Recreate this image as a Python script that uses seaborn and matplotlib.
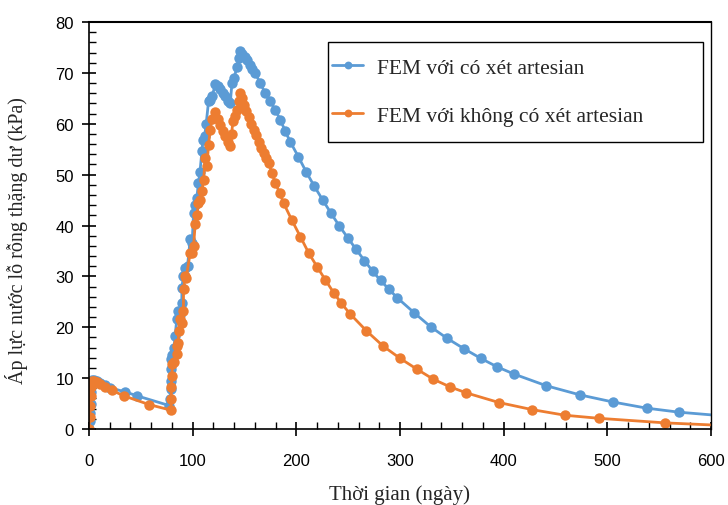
import matplotlib
matplotlib.use("Agg")
import matplotlib.pyplot as plt
from matplotlib.ticker import MultipleLocator
from matplotlib.patches import Rectangle
import seaborn as sns
import pandas as pd

# ---- data ----
days_with = [0, 0.5, 1, 1.5, 2, 3, 5, 8, 11, 15.5, 20.3, 34.8, 46.7, 77.5,
             78.5, 78.8, 79, 79.2, 79.5, 80.5, 82, 83, 84.7, 86.3, 87.5, 89.5, 89.6, 91,
             92.8, 95, 97.6, 99.5, 100.8, 102.5, 104, 105.6, 107, 108.9, 109.9, 111.5,
             113, 115.3, 117, 119, 121.7, 124, 126.5, 129, 131.4, 134, 136.2, 137.9,
             140, 142.7, 144.5, 145.9, 147.5, 150, 152.4, 155, 157.5, 160.4, 165.2,
             170, 174.9, 179.7, 184.5, 189.4, 194, 202, 209.6, 217.4, 225.5, 233.5,
             241.5, 249.6, 257.7, 265.7, 273.7, 281.2, 289.2, 297.3, 313.4, 329.5,
             345.6, 361.6, 377.8, 393.9, 410, 441.2, 473.7, 505.6, 537.9, 569.4, 634]
pwp_with = [0, 1.5, 3.2, 5, 7.2, 9.6, 9.6, 9.4, 9.1, 8.6, 8.1, 7.3, 6.5, 4.6,
            5.9, 7.8, 9.5, 11.8, 13.7, 14.5, 16, 18.3, 21.6, 23.2, 22.5, 24.8, 27.8, 30,
            31.7, 32, 37.3, 36.5, 42.5, 44, 45.5, 48.4, 50.5, 54.6, 56.9, 57.5,
            60, 64.4, 64.7, 65.5, 67.8, 67.5, 66.8, 66, 65.4, 64.5, 64.0, 68.0,
            69, 71.2, 73, 74.4, 73.8, 73.2, 72.5, 71.6, 70.8, 69.9, 68.0,
            66.0, 64.4, 62.7, 60.8, 58.5, 56.5, 53.5, 50.5, 47.7, 45.0, 42.4,
            39.9, 37.6, 35.3, 33.1, 31.0, 29.2, 27.5, 25.8, 22.9, 20.1,
            17.8, 15.8, 13.9, 12.2, 10.8, 8.5, 6.7, 5.3, 4.1, 3.3, 2.2]

days_without = [0, 0.5, 1, 1.5, 2, 3, 5, 8, 11, 15, 22, 33.8, 58, 79,
                79.3, 79.5, 79.8, 80.5, 81.5, 84.7, 85, 86, 86.5, 87.3, 89.5, 91, 91.2,
                92.8, 93.7, 97.6, 99.2, 100.8, 102.4, 104, 105.6, 107, 108.9, 110.5,
                112.1, 113.7, 115.3, 116.9, 119, 121.7, 124, 126.6, 129, 131.4, 134,
                136.2, 137.5, 138.8, 140.5, 142.7, 144.5, 145.9, 147.5, 149.1, 151.5,
                153.9, 156.3, 158.7, 161, 163.6, 166, 168.4, 170.8, 173.3, 176.5,
                179.7, 183.9, 187.7, 195.8, 203.9, 211.9, 220, 228, 236, 243.5, 251.5,
                267.6, 283.7, 300, 316, 332, 348, 364, 395.5, 427.7, 459.3, 492, 556, 620]
pwp_without = [0, 2.3, 4.6, 6.5, 8.3, 9.5, 9.4, 9.2, 8.8, 8.3, 7.6, 6.5, 4.8, 3.7,
               5.9, 8.2, 10.5, 12.7, 13.1, 14.7, 16.3, 17, 19.3, 21.6, 20.9, 23.2, 27.5,
               30.1, 29.7, 34.6, 34.6, 35.9, 40.2, 42, 44.4, 45, 46.7, 49.0,
               53.2, 51.6, 55.9, 58.8, 61, 62.4, 61, 59.8, 58.6, 57.5, 56.5,
               55.6, 58, 60.5, 61.5, 62.7, 64.5, 66.0, 65, 63.7, 62.5,
               61.4, 60, 58.8, 57.7, 56.5, 55.3, 54.2, 53.2, 52.3, 50.3,
               48.4, 46.4, 44.4, 41.0, 37.8, 34.6, 31.9, 29.3, 26.8, 24.7, 22.7,
               19.3, 16.3, 13.9, 11.8, 9.8, 8.3, 7.1, 5.2, 3.8, 2.7, 2.1, 1.2, 0.62]

labels = ["FEM với có xét artesian", "FEM với không có xét artesian"]
colors = ["#5B9BD5", "#ED7D31"]
x_label = "Thời gian (ngày)"
y_label = "Áp lực nước lỗ rỗng thặng dư (kPa)"

# ---- plot ----
sns.set_style("ticks")
plt.rcParams["font.family"] = ["Liberation Sans", "DejaVu Sans"]
serif = ["Liberation Serif", "DejaVu Serif"]

fig = plt.figure(figsize=(7.28, 5.06), dpi=100)
ax = fig.add_axes([0.1223, 0.1502, 0.8543, 0.8043])

df1 = pd.DataFrame({"x": days_with, "y": pwp_with})
df2 = pd.DataFrame({"x": days_without, "y": pwp_without})
for df, lab, col in [(df1, labels[0], colors[0]), (df2, labels[1], colors[1])]:
    sns.lineplot(data=df, x="x", y="y", ax=ax, estimator=None, sort=False,
                 color=col, linewidth=2, marker="o", markersize=7.5,
                 markeredgewidth=0, label=lab)

ax.set_xlim(0, 600)
ax.set_ylim(0, 80)
ax.xaxis.set_major_locator(MultipleLocator(100))
ax.xaxis.set_minor_locator(MultipleLocator(20))
ax.yaxis.set_major_locator(MultipleLocator(10))
ax.yaxis.set_minor_locator(MultipleLocator(2))
ax.tick_params(which="major", direction="inout", length=10, width=1.2,
               labelsize=12, colors="black")
ax.tick_params(axis="x", which="major", pad=12)
ax.tick_params(axis="y", which="major", pad=6)
ax.tick_params(which="minor", direction="in", length=5, width=1, colors="black")
for s in ax.spines.values():
    s.set_visible(True)
    s.set_linewidth(1.2)
    s.set_color("black")
ax.spines["top"].set_linewidth(1.5)
ax.spines["right"].set_linewidth(1.0)

ax.set_xlabel(x_label, family=serif, fontsize=15, labelpad=12)
ax.set_ylabel(y_label, family=serif, fontsize=14.5)
ax.yaxis.set_label_coords(-0.098, 0.465)

# legend box
ax.add_patch(Rectangle((0.384, 0.705), 0.603, 0.246, transform=ax.transAxes,
                       facecolor="white", edgecolor="black", linewidth=1.0,
                       zorder=5, clip_on=False))
leg = ax.legend(loc="upper left", bbox_to_anchor=(0.3907, 0.912),
                prop={"family": serif, "size": 15.5},
                frameon=False, labelspacing=1.28, handlelength=1.45,
                handletextpad=0.65, borderpad=0.0, borderaxespad=0.0,
                markerscale=0.75)
leg.set_zorder(6)

fig.savefig("out.png", dpi=100)
